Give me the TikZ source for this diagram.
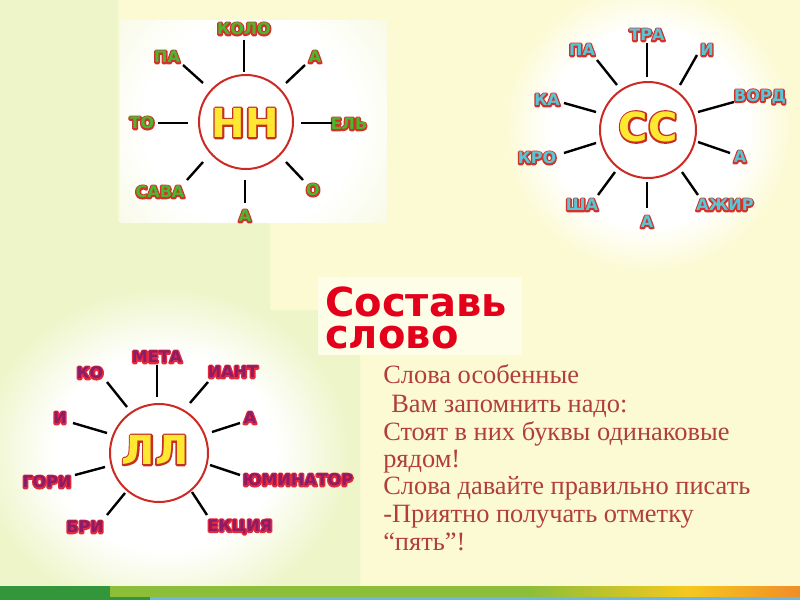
\documentclass[tikz,border=0pt]{standalone}
\usepackage{fontspec}
\setmainfont{Liberation Serif}
\newfontfamily\dvs{DejaVu Sans}
\definecolor{ybg}{RGB}{251,250,211}
\definecolor{gbg}{RGB}{238,245,201}
\definecolor{panel}{RGB}{248,250,228}
\definecolor{ringc}{RGB}{204,42,34}
\definecolor{lgreen}{RGB}{72,184,46}
\definecolor{lcyan}{RGB}{88,198,214}
\definecolor{lpurple}{RGB}{140,28,106}
\definecolor{bigy}{RGB}{255,232,50}
\definecolor{titr}{RGB}{228,0,27}
\definecolor{titbox}{RGB}{253,253,232}
\definecolor{bodyc}{RGB}{178,62,58}
\definecolor{sg}{RGB}{140,190,58}
\definecolor{sdg}{RGB}{52,150,58}
\definecolor{sy}{RGB}{245,200,30}
\definecolor{so}{RGB}{240,132,42}
\definecolor{sr}{RGB}{232,86,30}
\definecolor{sb}{RGB}{110,184,224}
\pgfdeclareradialshading{glowY}{\pgfpoint{0bp}{0bp}}{color(0bp)=(white); color(17bp)=(white); color(25bp)=(ybg); color(50bp)=(ybg)}
\pgfdeclareradialshading{glowG}{\pgfpoint{0bp}{0bp}}{color(0bp)=(white); color(15bp)=(white); color(25bp)=(gbg); color(50bp)=(gbg)}
\pgfdeclareradialshading{glowP}{\pgfpoint{0bp}{0bp}}{color(0bp)=(white); color(15bp)=(white); color(25bp)=(panel); color(50bp)=(panel)}
\pgfdeclarehorizontalshading{stripe}{100bp}{color(0bp)=(sg); color(58bp)=(sg); color(68bp)=(sy); color(76bp)=(so); color(82bp)=(sr); color(100bp)=(sr)}
% outlined text: a stroked copy underneath, the filled text on top
\newcommand\otext[3]{\rlap{\special{pdf:literal direct 1 j #1 RG #2 w 1 Tr}#3\special{pdf:literal direct 0 Tr}}#3}
\tikzset{
  lbl/.style={font=\dvs\bfseries\fontsize{12pt}{12pt}\selectfont, inner sep=0pt, anchor=center},
  big/.style={font=\dvs\bfseries\fontsize{30pt}{30pt}\selectfont, inner sep=0pt, anchor=center, text=bigy},
  ring/.style={draw=ringc, line width=1.5pt, circle, inner sep=0pt},
  spoke/.style={draw=black, line width=1.8pt},
  titl/.style={font=\dvs\bfseries\fontsize{30pt}{23.3pt}\selectfont, text=titr, inner sep=0pt, align=left},
  body/.style={font=\fontsize{19.8pt}{19.8pt}\selectfont, text=bodyc, inner sep=0pt, anchor=base west}
}
\newcommand\olab[4]{\node[lbl,text=#3] (#1) at (#2) {\otext{0.82 0.2 0.17}{2.2}{#4}};}
\newcommand\plab[3]{\node[lbl,text=lpurple] (#1) at (#2) {\otext{0.89 0.16 0.23}{2.2}{#3}};}
\newcommand\obig[3]{\node[big] (#1) at (#2) {\otext{0.77 0.19 0.14}{2.6}{#3}};}
\newcommand\spk[3]{\coordinate (#1a) at (#2); \coordinate (#1b) at (#3); \draw[spoke] (#1a) -- (#1b);}
\begin{document}
\begin{tikzpicture}[x=0.75pt,y=-0.75pt]
\useasboundingbox (0,0) rectangle (800,600);
% background
\fill[ybg] (0,0) rectangle (800,600);
\fill[gbg] (0,0) -- (118,0) -- (118,222) -- (270,222) -- (270,310) -- (360,310) -- (360,586) -- (0,586) -- cycle;
% glows
\fill[panel] (120,20) rectangle (387,222);
\begin{scope}
\clip (120,20) rectangle (387,222);
\shade[shading=glowP] (250,122) circle (175);
\end{scope}
\shade[shading=glowY] (648,128) circle (145);
\shade[shading=glowG] (165,452) ellipse (185 and 165);
% title box
\fill[titbox] (318,277) rectangle (522,355);
% bottom stripe
\shade[shading=stripe] (0,586) rectangle (800,597);
\fill[sdg] (0,586) rectangle (110,597);
\fill[sb] (150,597) rectangle (800,600);
\fill[sdg] (0,597) rectangle (150,600);
% ---- HH ----
\node[ring, minimum size=70.5pt] (nn) at (246,122) {};
\obig{nnt}{245,123}{НН}
\olab{n1}{244,29}{lgreen}{КОЛО}
\olab{n2}{167,57}{lgreen}{ПА}
\olab{n3}{315,57}{lgreen}{А}
\olab{n4}{142,123}{lgreen}{ТО}
\olab{n5}{349,124}{lgreen}{ЕЛЬ}
\olab{n6}{160,192}{lgreen}{САВА}
\olab{n7}{245,216}{lgreen}{А}
\olab{n8}{313,190}{lgreen}{О}
\spk{ns1}{244,40}{244,72}
\spk{ns2}{183,65}{203,83}
\spk{ns3}{286,83}{305,65}
\spk{ns4}{158,123}{188,123}
\spk{ns5}{301,123}{332,123}
\spk{ns6}{203,162}{187,180}
\spk{ns7}{245,180}{245,203}
\spk{ns8}{286,162}{303,180}
% ---- CC ----
\node[ring, minimum size=72pt] (cc) at (648,130) {};
\obig{cct}{648,127}{СС}
\olab{c1}{647,35}{lcyan}{ТРА}
\olab{c2}{582,50}{lcyan}{ПА}
\olab{c3}{707,50}{lcyan}{И}
\olab{c4}{760,97}{lcyan}{ВОРД}
\olab{c5}{547,100}{lcyan}{КА}
\olab{c6}{537,158}{lcyan}{КРО}
\olab{c7}{740,157}{lcyan}{А}
\olab{c8}{725,205}{lcyan}{АЖИР}
\olab{c9}{582,205}{lcyan}{ША}
\olab{c10}{647,222}{lcyan}{А}
\spk{cs1}{647,43}{647,77}
\spk{cs2}{597,60}{617,85}
\spk{cs3}{697,55}{680,85}
\spk{cs4}{734,102}{698,112}
\spk{cs5}{564,103}{596,112}
\spk{cs6}{564,153}{596,143}
\spk{cs7}{698,142}{730,153}
\spk{cs8}{682,172}{698,195}
\spk{cs9}{615,172}{598,195}
\spk{cs10}{647,182}{647,208}
% ---- LL ----
\node[ring, minimum size=73.5pt] (ll) at (159,453) {};
\obig{llt}{155,450}{ЛЛ}
\plab{l1}{157,357}{МЕТА}
\plab{l2}{90,373}{КО}
\plab{l3}{233,372}{ИАНТ}
\plab{l4}{60,418}{И}
\plab{l5}{250,418}{А}
\plab{l6}{47,482}{ГОРИ}
\plab{l7}{298,480}{ЮМИНАТОР}
\plab{l8}{85,527}{БРИ}
\plab{l9}{240,527}{ЕКЦИЯ}
\spk{ls1}{157,365}{157,397}
\spk{ls2}{107,382}{127,407}
\spk{ls3}{208,382}{190,403}
\spk{ls4}{73,423}{107,433}
\spk{ls5}{212,432}{240,423}
\spk{ls6}{75,475}{105,467}
\spk{ls7}{210,465}{240,475}
\spk{ls8}{107,515}{125,493}
\spk{ls9}{207,515}{192,492}
% ---- title ----
\node[titl, anchor=base west] (t1) at (325,348) {Составь\\слово};
% ---- body text ----
\node[body] (b1) at (383,383) {Слова особенные};
\node[body] (b2) at (391,412) {Вам запомнить надо:};
\node[body] (b3) at (383,440) {Стоят в них буквы одинаковые};
\node[body] (b4) at (383,467) {рядом!};
\node[body] (b5) at (383,494) {Слова давайте правильно писать};
\node[body] (b6) at (383,522) {-Приятно получать отметку};
\node[body] (b7) at (383,550) {“пять”!};
\end{tikzpicture}
\end{document}
